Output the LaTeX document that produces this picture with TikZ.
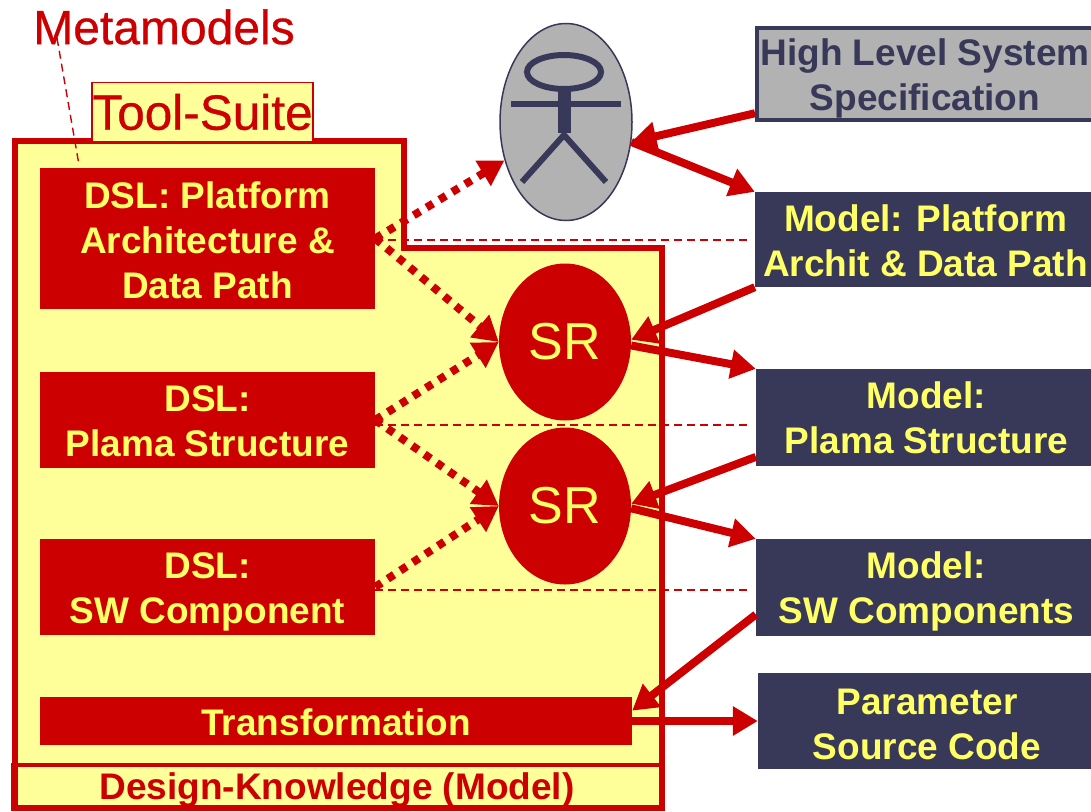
\documentclass[tikz,border=0pt]{standalone}
\usepackage{fontspec}
\setmainfont{Liberation Sans}
\newfontfamily\heavyfont[FakeBold=0.6]{Liberation Sans}
\usetikzlibrary{arrows.meta,shapes.geometric}
\definecolor{dslred}{HTML}{CC0000}
\definecolor{suiteyellow}{HTML}{FFFF99}
\definecolor{textyellow}{HTML}{FFFF66}
\definecolor{modelblue}{HTML}{383858}
\definecolor{actorgray}{HTML}{B2B2B2}
% pushes a box text down by about #1
\newcommand{\droptext}[1]{\rule{0pt}{\dimexpr 26.5pt+2\dimexpr #1\relax\relax}}
\tikzset{
  boldtext/.style={font=\fontsize{37}{45}\selectfont\bfseries,align=center,inner sep=0pt},
  dslbox/.style={boldtext,fill=dslred,text=textyellow,minimum width=335pt},
  modelbox/.style={boldtext,fill=modelblue,text=textyellow,minimum width=341pt},
  srnode/.style={ellipse,fill=dslred,text=textyellow,inner sep=0pt,minimum width=132pt,minimum height=157pt,font=\fontsize{52}{60}\selectfont},
  solidarrow/.style={dslred,line width=8pt,-{Triangle[length=25pt,width=28pt]}},
  dotarrow/.style={dslred,line width=8pt,dash pattern=on 7.5pt off 7.5pt,-{Triangle[length=25pt,width=28pt]}},
  thindash/.style={dslred,line width=1.4pt,dash pattern=on 8pt off 5pt},
}
\begin{document}
\begin{tikzpicture}[x=1pt,y=-1pt]
        \useasboundingbox (0,0) rectangle (1091,811);

        % Tool suite frame
        \draw[dslred,line width=6pt,fill=suiteyellow] (15,141) -- (404,141) -- (404,248) -- (662,248) -- (662,808) -- (15,808) -- cycle;
        \node[draw=dslred,line width=1.5pt,fill=suiteyellow,text=dslred,inner sep=0pt,minimum width=221pt,minimum height=59pt,font=\heavyfont\fontsize{49.5}{50}\selectfont] (suite) at (202.5,112) {Tool-Suite};
        \node[draw=dslred,line width=4pt,boldtext,text=dslred,minimum width=648pt,minimum height=44pt] (knowledge) at (337,787) {\droptext{3pt}Design-Knowledge (Model)};

        % Metamodels label
        \node[text=dslred,inner sep=0pt,font=\heavyfont\fontsize{48}{50}\selectfont] (meta) at (164,27) {Metamodels};
        \coordinate (metastart) at (57,38);
        \coordinate (metaend) at (79,165);
        \draw[thindash] (metastart) -- (metaend);

        % DSL boxes
        \node[dslbox,minimum height=141pt] (platform) at (207.5,238.5) {\droptext{2pt}DSL: Platform\\Architecture \&\\Data Path};
        \node[dslbox,minimum height=96pt] (plasma) at (207.5,420) {\droptext{1pt}DSL:\\Plama Structure};
        \node[dslbox,minimum height=96pt] (component) at (207.5,587) {\droptext{5pt}DSL:\\SW Component};
        \node[boldtext,fill=dslred,text=textyellow,minimum width=592pt,minimum height=48pt] (transform) at (336,721) {\droptext{1pt}Transformation};

        % SR nodes
        \node[srnode] (srone) at (565,342) {SR};
        \node[srnode] (srtwo) at (565,506) {SR};

        % Actor
        \node[ellipse,draw=modelblue,line width=1.5pt,fill=actorgray,inner sep=0pt,minimum width=132pt,minimum height=197pt] (actor) at (566,122) {};
        \draw[modelblue,line width=6pt] (564,72) ellipse [x radius=37pt,y radius=17pt];
        \fill[modelblue] (558,90) rectangle (571,133);
        \draw[modelblue,line width=6pt] (511,104) -- (621,104);
        \draw[modelblue,line width=6pt] (522,182) -- (564,135) -- (606,182);

        % Model boxes
        \node[boldtext,draw=modelblue,line width=4pt,fill=actorgray,text=modelblue,minimum width=336pt,minimum height=92.5pt] (spec) at (925,74) {\droptext{4.5pt}High Level System\\Specification};
        \node[modelbox,minimum height=95pt] (mplatform) at (925.5,239.5) {\droptext{1pt}Model: Platform\\Archit \& Data Path};
        \node[modelbox,minimum height=97pt] (mplasma) at (926.5,417.5) {Model:\\Plama Structure};
        \node[modelbox,minimum height=97pt] (mcomponent) at (926.5,587.5) {\droptext{4pt}Model:\\SW Components};
        \node[modelbox,minimum width=338pt,minimum height=96pt] (source) at (927,721) {\droptext{3pt}Parameter\\Source Code};

        % Thin dashed links
        \draw[thindash] (platform.east) ++(0,1.5) -- (750,240);
        \draw[thindash] (plasma.east) ++(0,5) -- (750,425);
        \draw[thindash] (component.east) ++(0,3) -- (750,590);

        % Dotted arrows
        \draw[dotarrow] (platform.east) -- (actor.212);
        \draw[dotarrow] (platform.east) -- (srone.west);
        \draw[dotarrow] (plasma.east) -- (srone.west);
        \draw[dotarrow] (plasma.east) -- (srtwo.west);
        \draw[dotarrow] (component.east) -- (srtwo.west);

        % Solid arrows
        \draw[solidarrow] (spec.193.5) -- (actor.-17);
        \draw[solidarrow] (actor.-17) -- (mplatform.north west);
        \draw[solidarrow] (mplatform.south west) -- (srone.2);
        \draw[solidarrow] (srone.-3) -- (mplasma.north west);
        \draw[solidarrow] (mplasma.193) -- (srtwo.2);
        \draw[solidarrow] (srtwo.-2) -- (mcomponent.north west);
        \draw[solidarrow] (mcomponent.189) -- (transform.2);
        \draw[solidarrow] (transform.east) -- (source.west);
    \end{tikzpicture}
\end{document}
